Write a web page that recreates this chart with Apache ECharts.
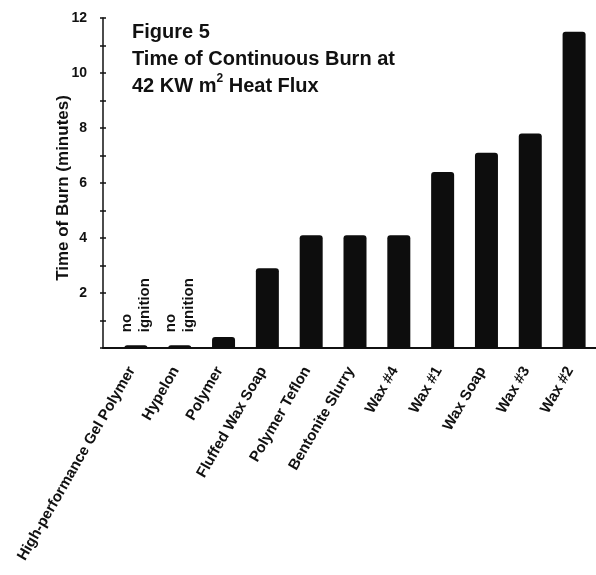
<!DOCTYPE html>
<html>
<head>
<meta charset="utf-8">
<script src="https://cdn.jsdelivr.net/npm/echarts@6/dist/echarts.min.js"></script>
<style>
  html, body { margin: 0; padding: 0; background: #fff; }
  #chart { width: 596px; height: 575px; }
</style>
</head>
<body>
<div id="chart"></div>
<script>
// data
const categories = ['High-performance Gel Polymer', 'Hypelon', 'Polymer', 'Fluffed Wax Soap', 'Polymer Teflon',
  'Bentonite Slurry', 'Wax #4', 'Wax #1', 'Wax Soap', 'Wax #3', 'Wax #2'];
const burnMinutes = [0.1, 0.1, 0.4, 2.9, 4.1, 4.1, 4.1, 6.4, 7.1, 7.8, 11.5];
const noIgnition = ['High-performance Gel Polymer', 'Hypelon'];
const yTicks = [0, 2, 4, 6, 8, 10, 12];

const FONT = '"Liberation Sans", Arial, sans-serif';
let chart = echarts.init(document.getElementById('chart'));

let option = {
  backgroundColor: '#fff',
  animation: false,
  title: {
    text: 'Figure 5\nTime of Continuous Burn at\n42 KW m{sup|2} Heat Flux',
    left: 132,
    top: 19,
    padding: 0,
    textStyle: {
      color: '#111',
      fontFamily: FONT,
      fontWeight: 'bold',
      fontSize: 20,
      lineHeight: 27,
      rich: {
        sup: { fontSize: 12, fontWeight: 'bold', fontFamily: FONT, color: '#111', verticalAlign: 'top', lineHeight: 27, padding: [0, 0, 8, 0] }
      }
    }
  },
  grid: [
    // bars
    { left: 114, right: -3, top: 18, bottom: 227 },
    // axes frame
    { left: 103, right: 0, top: 18, bottom: 227 }
  ],
  xAxis: [
    {
      type: 'category',
      gridIndex: 0,
      data: categories,
      axisLine: { show: false },
      axisTick: { show: false },
      axisLabel: {
        interval: 0,
        rotate: 60,
        margin: 13,
        padding: [0, 8, 0, 0],
        color: '#111',
        fontFamily: FONT,
        fontWeight: 'bold',
        fontSize: 15
      }
    },
    {
      type: 'category',
      gridIndex: 1,
      data: [''],
      axisLine: { show: true, lineStyle: { color: '#111', width: 2 } },
      axisTick: { show: false },
      axisLabel: { show: false }
    }
  ],
  yAxis: [
    {
      type: 'value',
      gridIndex: 0,
      min: yTicks[0],
      max: yTicks[yTicks.length - 1],
      show: false
    },
    {
      type: 'value',
      gridIndex: 1,
      min: yTicks[0],
      max: yTicks[yTicks.length - 1],
      interval: 2,
      name: 'Time of Burn (minutes)',
      nameLocation: 'middle',
      nameGap: 31,
      nameMoveOverlap: false,
      nameTextStyle: { color: '#111', fontFamily: FONT, fontWeight: 'bold', fontSize: 17, padding: [0, 10, 0, 0] },
      axisLine: { show: true, lineStyle: { color: '#111', width: 1.5 } },
      axisTick: { show: true, length: 3, lineStyle: { color: '#111', width: 1.5 } },
      minorTick: { show: true, splitNumber: 2, length: 3, lineStyle: { color: '#111', width: 1.5 } },
      splitLine: { show: false },
      axisLabel: {
        margin: 16,
        color: '#111',
        fontFamily: FONT,
        fontWeight: 'bold',
        fontSize: 14,
        formatter: v => (v === 0 ? '' : v)
      }
    },
    {
      // inner half of the crossing ticks
      type: 'value',
      gridIndex: 1,
      position: 'left',
      min: yTicks[0],
      max: yTicks[yTicks.length - 1],
      interval: 2,
      axisLine: { show: false },
      axisTick: { show: true, inside: true, length: 3, lineStyle: { color: '#111', width: 1.5 } },
      minorTick: { show: true, splitNumber: 2, length: 3, lineStyle: { color: '#111', width: 1.5 } },
      splitLine: { show: false },
      axisLabel: { show: false }
    }
  ],
  series: [
    {
      type: 'bar',
      xAxisIndex: 0,
      yAxisIndex: 0,
      data: burnMinutes,
      barWidth: 23,
      itemStyle: { color: '#0d0d0d', borderRadius: [3, 3, 0, 0] },
      label: {
        show: true,
        position: 'top',
        distance: 13,
        rotate: 90,
        align: 'left',
        verticalAlign: 'middle',
        lineHeight: 18,
        color: '#111',
        fontFamily: FONT,
        fontWeight: 'bold',
        fontSize: 15,
        formatter: p => (noIgnition.indexOf(p.name) >= 0 ? 'no\nignition' : '')
      }
    }
  ]
};

chart.setOption(option);
</script>
</body>
</html>
